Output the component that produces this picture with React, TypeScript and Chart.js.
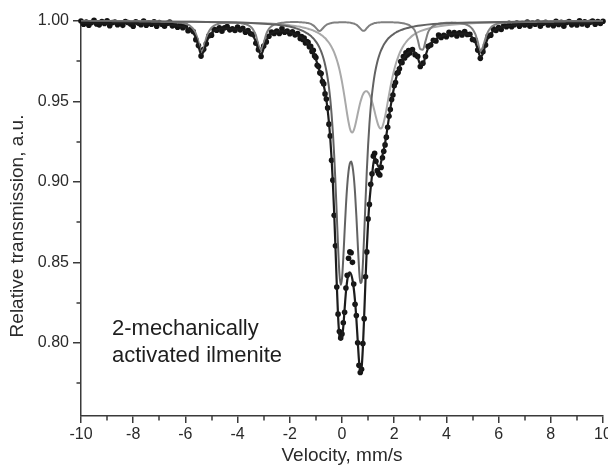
import React, { useEffect, useRef } from "react";
import { Chart, registerables } from "chart.js";

Chart.register(...registerables);

// ---- measured spectrum: velocity channels (mm/s) ----
const velocityLeft = [
  -10, -9.9, -9.8, -9.7, -9.6, -9.5, -9.4, -9.3, -9.2, -9.1,
  -9, -8.9, -8.8, -8.7, -8.6, -8.5, -8.4, -8.3, -8.2, -8.1,
  -8, -7.9, -7.8, -7.7, -7.6, -7.5, -7.4, -7.3, -7.2, -7.1,
  -7, -6.9, -6.8, -6.7, -6.6, -6.5, -6.4, -6.3, -6.2, -6.1,
  -6, -5.9, -5.8, -5.7, -5.6, -5.5, -5.4, -5.3, -5.2, -5.1,
  -5, -4.9, -4.8, -4.7, -4.6, -4.5, -4.4, -4.3, -4.2, -4.1,
  -4, -3.9, -3.8, -3.7, -3.6, -3.5, -3.4, -3.3, -3.2, -3.1,
  -3, -2.9, -2.8, -2.7, -2.6, -2.5, -2.4, -2.3, -2.2, -2.1,
  -2, -1.9, -1.8, -1.7,
];
const velocityCenter = [
  -1.6, -1.55, -1.5, -1.45, -1.4, -1.35, -1.3, -1.25, -1.2, -1.15,
  -1.1, -1.05, -1, -0.95, -0.9, -0.85, -0.8, -0.75, -0.7, -0.65,
  -0.6, -0.55, -0.5, -0.45, -0.4, -0.35, -0.3, -0.25, -0.2, -0.15,
  -0.1, -0.05, 0, 0.05, 0.1, 0.15, 0.2, 0.25, 0.3, 0.35,
  0.4, 0.45, 0.5, 0.55, 0.6, 0.65, 0.7, 0.75, 0.8, 0.85,
  0.9, 0.95, 1, 1.05, 1.1, 1.15, 1.2, 1.25, 1.3, 1.35,
  1.4, 1.45, 1.5, 1.55, 1.6, 1.65, 1.7, 1.75, 1.8, 1.85,
  1.9, 1.95, 2, 2.05, 2.1, 2.15, 2.2, 2.25, 2.3, 2.35,
  2.4, 2.45, 2.5, 2.55, 2.6,
];
const velocityRight = [
  2.7, 2.8, 2.9, 3, 3.1, 3.2, 3.3, 3.4, 3.5, 3.6,
  3.7, 3.8, 3.9, 4, 4.1, 4.2, 4.3, 4.4, 4.5, 4.6,
  4.7, 4.8, 4.9, 5, 5.1, 5.2, 5.3, 5.4, 5.5, 5.6,
  5.7, 5.8, 5.9, 6, 6.1, 6.2, 6.3, 6.4, 6.5, 6.6,
  6.7, 6.8, 6.9, 7, 7.1, 7.2, 7.3, 7.4, 7.5, 7.6,
  7.7, 7.8, 7.9, 8, 8.1, 8.2, 8.3, 8.4, 8.5, 8.6,
  8.7, 8.8, 8.9, 9, 9.1, 9.2, 9.3, 9.4, 9.5, 9.6,
  9.7, 9.8, 9.9, 10,
];

// ---- measured relative transmission (dots) ----
const transmissionLeft = [
  1.0, 0.998, 0.9993, 0.9974, 0.999, 1.0004, 0.9981, 0.9976, 0.9996, 0.9985,
  1.0001, 0.9971, 0.999, 0.9994, 0.9977, 0.9987, 0.9973, 0.9997, 0.9991, 0.9981,
  0.9967, 0.9995, 0.9987, 0.9977, 0.9999, 0.9974, 0.9989, 0.998, 0.9995, 0.9967,
  0.999, 0.998, 0.9968, 0.9986, 0.9993, 0.997, 0.9976, 0.9961, 0.998, 0.9958,
  0.9971, 0.994, 0.9947, 0.9935, 0.9884, 0.9847, 0.9782, 0.9824, 0.9858, 0.9908,
  0.9912, 0.9949, 0.9943, 0.9958, 0.9936, 0.9957, 0.9965, 0.9945, 0.9952, 0.9941,
  0.9963, 0.9945, 0.9954, 0.993, 0.9941, 0.992, 0.9916, 0.9862, 0.9822, 0.9779,
  0.9845, 0.987, 0.9905, 0.9932, 0.9923, 0.9938, 0.9923, 0.9953, 0.993, 0.9937,
  0.9921, 0.9933, 0.9914, 0.9922,
];
const transmissionCenter = [
  0.9891, 0.9903, 0.9885, 0.9894, 0.9864, 0.9872, 0.9867, 0.984, 0.9842, 0.9811,
  0.9818, 0.9783, 0.9773, 0.9725, 0.9717, 0.9678, 0.9674, 0.9624, 0.9609, 0.9547,
  0.9515, 0.946, 0.9359, 0.9286, 0.9135, 0.9011, 0.8792, 0.8603, 0.8346, 0.8178,
  0.807, 0.803, 0.8055, 0.8125, 0.819, 0.834, 0.842, 0.8525, 0.8565, 0.856,
  0.85, 0.8365, 0.824, 0.817, 0.8, 0.786, 0.7815, 0.7835, 0.7995, 0.815,
  0.841, 0.8565, 0.877, 0.886, 0.8985, 0.905, 0.916, 0.9178, 0.9128, 0.907,
  0.9052, 0.9043, 0.909, 0.915, 0.919, 0.923, 0.9278, 0.934, 0.9408, 0.945,
  0.9512, 0.954, 0.9598, 0.9618, 0.9675, 0.968, 0.9703, 0.9748, 0.9741, 0.9779,
  0.977, 0.9803, 0.9788, 0.9817, 0.9801,
];
const transmissionRight = [
  0.9823, 0.9791, 0.978, 0.9717, 0.9738, 0.9779, 0.9842, 0.9851, 0.988, 0.9876,
  0.9913, 0.9898, 0.9911, 0.9902, 0.9929, 0.9915, 0.9928, 0.9907, 0.9927, 0.9913,
  0.9934, 0.9916, 0.9918, 0.9885, 0.9881, 0.9819, 0.9768, 0.9809, 0.9851, 0.9906,
  0.9912, 0.9951, 0.9941, 0.9959, 0.9947, 0.9973, 0.9965, 0.9985, 0.9964, 0.9977,
  0.9987, 0.9967, 0.9984, 0.9975, 0.9994, 0.9968, 0.9988, 0.998, 0.9993, 0.9968,
  0.9986, 0.9992, 0.9975, 0.9985, 0.9971, 0.9998, 0.9979, 0.9992, 0.9968, 0.9991,
  0.9997, 0.9976, 0.9988, 0.9975, 1.0002, 0.9982, 0.9995, 0.9973, 0.9992, 0.9999,
  0.998, 0.9997, 0.9984, 0.9998,
];

// ---- total fit (black line) ----
const fitLeft = [
  0.9988, 0.9988, 0.9988, 0.9988, 0.9987, 0.9987, 0.9987, 0.9987, 0.9987, 0.9987,
  0.9987, 0.9987, 0.9986, 0.9986, 0.9986, 0.9986, 0.9986, 0.9986, 0.9985, 0.9985,
  0.9985, 0.9985, 0.9985, 0.9984, 0.9984, 0.9984, 0.9984, 0.9983, 0.9983, 0.9982,
  0.9982, 0.9981, 0.998, 0.9979, 0.9977, 0.9975, 0.9973, 0.997, 0.9967, 0.9964,
  0.9961, 0.9954, 0.9943, 0.9926, 0.9895, 0.9845, 0.9794, 0.9809, 0.9862, 0.9902,
  0.9925, 0.9938, 0.9945, 0.995, 0.9952, 0.9952, 0.9953, 0.9952, 0.9951, 0.9951,
  0.9949, 0.9948, 0.9945, 0.9942, 0.9935, 0.9925, 0.9905, 0.9871, 0.9819, 0.9792,
  0.983, 0.9877, 0.9906, 0.9922, 0.9931, 0.9934, 0.9936, 0.9937, 0.9936, 0.9935,
  0.9932, 0.9924, 0.9918, 0.991,
];
const fitCenter = [
  0.9901, 0.9895, 0.989, 0.9883, 0.9876, 0.9868, 0.9858, 0.9848, 0.9836, 0.9822,
  0.9805, 0.9786, 0.9763, 0.9737, 0.971, 0.9687, 0.966, 0.963, 0.9599, 0.956,
  0.951, 0.9448, 0.9369, 0.9271, 0.9147, 0.8993, 0.8807, 0.8591, 0.8364, 0.8164,
  0.8045, 0.802, 0.8035, 0.81, 0.821, 0.8314, 0.8387, 0.8428, 0.8438, 0.8426,
  0.8393, 0.8339, 0.8259, 0.815, 0.8019, 0.7892, 0.7818, 0.7842, 0.797, 0.8168,
  0.8386, 0.8585, 0.8748, 0.8873, 0.8963, 0.904, 0.911, 0.915, 0.914, 0.911,
  0.9095, 0.9095, 0.9125, 0.9165, 0.92, 0.924, 0.929, 0.9345, 0.94, 0.9455,
  0.9505, 0.955, 0.959, 0.963, 0.9662, 0.969, 0.9714, 0.9735, 0.9753, 0.9768,
  0.978, 0.979, 0.9799, 0.9805, 0.981,
];
const fitRight = [
  0.9814, 0.9803, 0.9774, 0.9731, 0.973, 0.9784, 0.9831, 0.986, 0.9876, 0.9889,
  0.9898, 0.9904, 0.9909, 0.9913, 0.9917, 0.9919, 0.992, 0.9922, 0.9922, 0.9922,
  0.9921, 0.9918, 0.9911, 0.9897, 0.9871, 0.9825, 0.9778, 0.9797, 0.9854, 0.9897,
  0.9923, 0.9937, 0.9948, 0.9955, 0.996, 0.9963, 0.9967, 0.9969, 0.9972, 0.9974,
  0.9975, 0.9977, 0.9978, 0.9979, 0.9979, 0.998, 0.9981, 0.9981, 0.9982, 0.9982,
  0.9982, 0.9983, 0.9983, 0.9983, 0.9983, 0.9984, 0.9984, 0.9984, 0.9984, 0.9985,
  0.9985, 0.9985, 0.9985, 0.9986, 0.9986, 0.9986, 0.9986, 0.9986, 0.9986, 0.9986,
  0.9987, 0.9987, 0.9987, 0.9987,
];

// ---- doublet components ----
const compEdgeLeft = [-10, -6, -4, -3, -2.5, -2, -1.8, -1.7];
const compEdgeRight = [2.7, 2.8, 3, 3.5, 4, 5, 6, 8, 10];
const darkDoubletLeft = [0.9998, 0.9995, 0.999, 0.9983, 0.9977, 0.9966, 0.9956, 0.9951];
const darkDoubletCenter = [
  0.9945, 0.9942, 0.9938, 0.9934, 0.993, 0.9925, 0.992, 0.9914, 0.9908, 0.99,
  0.9892, 0.9883, 0.9872, 0.986, 0.9846, 0.983, 0.9811, 0.9789, 0.9762, 0.973,
  0.9692, 0.9645, 0.9587, 0.9514, 0.9423, 0.9309, 0.9167, 0.8994, 0.8796, 0.8595,
  0.8433, 0.836, 0.84, 0.8528, 0.8693, 0.885, 0.8977, 0.9065, 0.9114, 0.9126,
  0.9099, 0.9035, 0.8931, 0.879, 0.8626, 0.847, 0.8371, 0.8377, 0.849, 0.8674,
  0.8877, 0.9066, 0.9227, 0.9358, 0.9462, 0.9545, 0.9611, 0.9665, 0.9708, 0.9744,
  0.9773, 0.9798, 0.9819, 0.9836, 0.9852, 0.9865, 0.9877, 0.9887, 0.9896, 0.9903,
  0.991, 0.9916, 0.9922, 0.9927, 0.9932, 0.9936, 0.994, 0.9943, 0.9946, 0.9949,
  0.9952, 0.9954, 0.9956, 0.9958, 0.9961,
];
const darkDoubletRight = [0.9964, 0.9967, 0.9972, 0.9981, 0.9986, 0.9991, 0.9994, 0.9997, 0.9998];

const lightDoubletLeft = [0.9998, 0.9995, 0.9991, 0.9986, 0.9981, 0.9973, 0.9969, 0.9966];
const lightDoubletCenter = [
  0.9964, 0.9962, 0.996, 0.9958, 0.9956, 0.9954, 0.9952, 0.9949, 0.9947, 0.9944,
  0.9941, 0.9937, 0.9933, 0.9929, 0.9925, 0.992, 0.9914, 0.9908, 0.9901, 0.9894,
  0.9885, 0.9875, 0.9865, 0.9852, 0.9839, 0.9823, 0.9805, 0.9783, 0.9759, 0.9732,
  0.97, 0.9663, 0.9622, 0.9575, 0.9525, 0.9472, 0.9419, 0.9372, 0.9334, 0.9312,
  0.9307, 0.932, 0.9347, 0.9383, 0.9422, 0.9459, 0.9493, 0.9521, 0.9542, 0.9556,
  0.9563, 0.9563, 0.9556, 0.9543, 0.9524, 0.9499, 0.947, 0.9437, 0.9404, 0.9373,
  0.9348, 0.9334, 0.9332, 0.9344, 0.937, 0.9406, 0.9448, 0.9494, 0.954, 0.9585,
  0.9626, 0.9663, 0.9697, 0.9727, 0.9753, 0.9776, 0.9797, 0.9815, 0.9831, 0.9845,
  0.9857, 0.9868, 0.9878, 0.9887, 0.9895,
];
const lightDoubletRight = [0.9909, 0.992, 0.9937, 0.9961, 0.9974, 0.9986, 0.9991, 0.9995, 0.9997];

// ---- sextet component ----
const sextetEdgeLeft = [-10, -9, -8, -7.5, -7, -6.5, -6.3, -6.2, -6.1];
const sextetEdgeRight = [6.2, 6.5, 7, 8, 10];
const sextetLeft = [
  1.0, 1.0, 0.9999, 0.9998, 0.9997, 0.9994, 0.9991, 0.9989, 0.9987,
  0.9983, 0.9977, 0.9967, 0.9951, 0.9922, 0.9873, 0.9812, 0.983, 0.9895, 0.9935,
  0.9958, 0.9971, 0.9979, 0.9984, 0.9987, 0.9988, 0.9989, 0.9989, 0.9989, 0.9989,
  0.9988, 0.9987, 0.9984, 0.9981, 0.9974, 0.9964, 0.9945, 0.9912, 0.985, 0.982,
  0.9862, 0.992, 0.9951, 0.9967, 0.9977, 0.9982, 0.9986, 0.9989, 0.9991, 0.9992,
  0.9993, 0.9994, 0.9994, 0.9994,
];
const sextetCenter = [
  0.9992, 0.9992, 0.9991, 0.9991, 0.999, 0.9988, 0.9987, 0.9985, 0.9982, 0.9978,
  0.9973, 0.9966, 0.9957, 0.9948, 0.994, 0.9938, 0.9943, 0.9952, 0.9961, 0.9969,
  0.9975, 0.998, 0.9983, 0.9986, 0.9988, 0.9989, 0.999, 0.9991, 0.9991, 0.9991,
  0.9992, 0.9993, 0.9993, 0.9992, 0.9992, 0.9992, 0.9991, 0.9991, 0.999, 0.9988,
  0.9986, 0.9984, 0.9981, 0.9977, 0.9971, 0.9963, 0.9954, 0.9945, 0.9939, 0.9939,
  0.9946, 0.9956, 0.9964, 0.9972, 0.9977, 0.9981, 0.9984, 0.9987, 0.9988, 0.999,
  0.9991, 0.9991, 0.9992, 0.9992, 0.9992, 0.9993, 0.9993, 0.9993, 0.9993, 0.9992,
  0.9992, 0.9992, 0.9991, 0.9991, 0.9991, 0.999, 0.9989, 0.9988, 0.9987, 0.9986,
  0.9984, 0.9982, 0.9979, 0.9976, 0.9972,
];
const sextetRight = [
  0.9959, 0.9937, 0.9885, 0.9825, 0.9822, 0.9875, 0.9931, 0.9956, 0.997, 0.9978,
  0.9983, 0.9986, 0.9988, 0.9989, 0.9989, 0.999, 0.9989, 0.9988, 0.9987, 0.9985,
  0.9981, 0.9975, 0.9966, 0.995, 0.9921, 0.9872, 0.9812, 0.9839, 0.9894, 0.9935,
  0.9959, 0.9972, 0.998, 0.9985,
  0.999, 0.9994, 0.9997, 0.9999, 1.0,
];

// ---- axes / text ----
const xTicks = [-10, -8, -6, -4, -2, 0, 2, 4, 6, 8, 10];
const xMinorTicks = [-9, -7, -5, -3, -1, 1, 3, 5, 7, 9];
const yTicks = [0.8, 0.85, 0.9, 0.95, 1.0];
const yMinorTicks = [0.775, 0.825, 0.875, 0.925, 0.975];
const xTitle = "Velocity, mm/s";
const yTitle = "Relative transmission, a.u.";
const sampleLabel = ["2-mechanically", "activated ilmenite"];

const FONT = '"Liberation Sans", Arial, Helvetica, sans-serif';
const AXIS_COLOR = "#3a3a3a";
const TEXT_COLOR = "#2a2a2a";

function pts(xs: number[], ys: number[]) {
  return xs.map((x, i) => ({ x, y: ys[i] }));
}

const decorPlugin = {
  id: "decor",
  afterDraw(chart: any) {
    const { ctx, scales } = chart;
    const xs = scales.x;
    const ys = scales.y;
    const area = chart.chartArea;
    ctx.save();
    ctx.strokeStyle = AXIS_COLOR;
    ctx.lineWidth = 1.5;
    ctx.beginPath();
    xMinorTicks.forEach((v) => {
      const px = Math.round(xs.getPixelForValue(v));
      ctx.moveTo(px, area.bottom);
      ctx.lineTo(px, area.bottom + 4.5);
    });
    yMinorTicks.forEach((v) => {
      const py = Math.round(ys.getPixelForValue(v));
      ctx.moveTo(area.left, py);
      ctx.lineTo(area.left - 4.5, py);
    });
    ctx.stroke();

    ctx.fillStyle = TEXT_COLOR;
    ctx.font = `19px ${FONT}`;
    ctx.textAlign = "center";
    ctx.textBaseline = "middle";
    ctx.fillText(xTitle, (area.left + area.right) / 2, 456);

    ctx.save();
    ctx.translate(18, 226);
    ctx.rotate(-Math.PI / 2);
    ctx.fillText(yTitle, 0, 0);
    ctx.restore();

    ctx.font = `22px ${FONT}`;
    ctx.textAlign = "left";
    ctx.textBaseline = "alphabetic";
    ctx.fillStyle = "#1e1e1e";
    ctx.fillText(sampleLabel[0], 112, 335);
    ctx.fillText(sampleLabel[1], 112, 362);
    ctx.restore();
  },
};

export default function App() {
  const canvasRef = useRef<HTMLCanvasElement | null>(null);

  useEffect(() => {
    const canvas = canvasRef.current;
    if (!canvas) return;

    const velocity = [...velocityLeft, ...velocityCenter, ...velocityRight];
    const transmission = [...transmissionLeft, ...transmissionCenter, ...transmissionRight];
    const fit = [...fitLeft, ...fitCenter, ...fitRight];
    const compVelocity = [...compEdgeLeft, ...velocityCenter, ...compEdgeRight];
    const darkDoublet = [...darkDoubletLeft, ...darkDoubletCenter, ...darkDoubletRight];
    const lightDoublet = [...lightDoubletLeft, ...lightDoubletCenter, ...lightDoubletRight];
    const sextetVelocity = [
      ...sextetEdgeLeft,
      ...velocityLeft.slice(40),
      ...velocityCenter,
      ...velocityRight.slice(0, 34),
      ...sextetEdgeRight,
    ];
    const sextet = [...sextetLeft, ...sextetCenter, ...sextetRight];

    const lineDs = (data: any, color: string, width: number) => ({
      type: "scatter" as const,
      data,
      showLine: true,
      pointRadius: 0,
      borderColor: color,
      borderWidth: width,
      backgroundColor: color,
      cubicInterpolationMode: "monotone" as const,
      fill: false,
      clip: false as any,
    });

    const chart = new Chart(canvas, {
      type: "scatter",
      data: {
        datasets: [
          lineDs(pts(velocity, fit), "#1c1c1c", 2.2),
          lineDs(pts(compVelocity, darkDoublet), "#626262", 2),
          lineDs(pts(sextetVelocity, sextet), "#808080", 2),
          lineDs(pts(compVelocity, lightDoublet), "#a9a9a9", 2),
          {
            type: "scatter",
            data: pts(velocity, transmission),
            pointRadius: 2.8,
            pointBackgroundColor: "#141414",
            pointBorderWidth: 0,
            showLine: false,
            clip: false as any,
          },
        ],
      },
      options: {
        responsive: false,
        animation: false,
        devicePixelRatio: 1,
        events: [],
        layout: { padding: { top: 21, right: 5, left: 0, bottom: 0 } },
        plugins: { legend: { display: false }, tooltip: { enabled: false }, title: { display: false } },
        scales: {
          x: {
            type: "linear",
            min: -10,
            max: 10,
            afterBuildTicks: (s: any) => {
              s.ticks = xTicks.map((v) => ({ value: v }));
            },
            afterFit: (s: any) => {
              s.height = 50;
              s.paddingLeft = 0;
              s.paddingRight = 0;
            },
            grid: { drawOnChartArea: false, drawTicks: true, tickLength: 7, color: AXIS_COLOR, lineWidth: 1.5 },
            border: { display: true, color: AXIS_COLOR, width: 1.5 },
            ticks: {
              autoSkip: false,
              maxRotation: 0,
              padding: 2,
              color: TEXT_COLOR,
              font: { family: FONT, size: 16 },
              callback: (v: any) => String(v),
            },
          },
          y: {
            type: "linear",
            min: 0.7545,
            max: 1.0,
            afterBuildTicks: (s: any) => {
              s.ticks = yTicks.map((v) => ({ value: v }));
            },
            afterFit: (s: any) => {
              s.width = 81;
              s.paddingTop = 0;
              s.paddingBottom = 0;
            },
            grid: { drawOnChartArea: false, drawTicks: true, tickLength: 8, color: AXIS_COLOR, lineWidth: 1.5 },
            border: { display: true, color: AXIS_COLOR, width: 1.5 },
            ticks: {
              autoSkip: false,
              padding: 4,
              color: TEXT_COLOR,
              font: { family: FONT, size: 16 },
              callback: (v: any) => Number(v).toFixed(2),
            },
          },
        },
      },
      plugins: [decorPlugin],
    } as any);

    return () => chart.destroy();
  }, []);

  return (
    <div style={{ position: "absolute", left: 0, top: 0, width: 608, height: 466, background: "#fff" }}>
      <canvas ref={canvasRef} width={608} height={466} style={{ display: "block", width: 608, height: 466 }} />
    </div>
  );
}
